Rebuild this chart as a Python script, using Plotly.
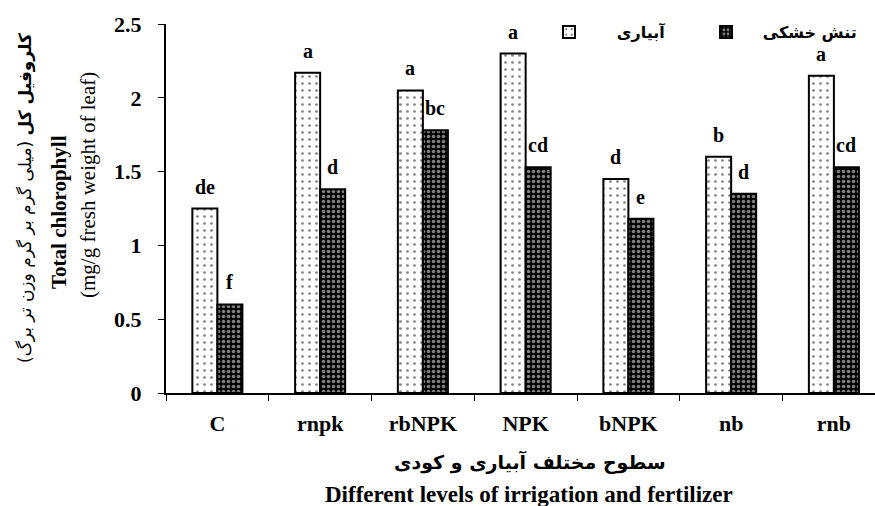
import plotly.graph_objects as go

categories = ["C", "rnpk", "rbNPK", "NPK", "bNPK", "nb", "rnb"]
irrigation = [1.25, 2.17, 2.05, 2.30, 1.45, 1.60, 2.15]
drought = [0.60, 1.38, 1.78, 1.53, 1.18, 1.35, 1.53]
irr_letters = ["de", "a", "a", "a", "d", "b", "a"]
dro_letters = ["f", "d", "bc", "cd", "e", "d", "cd"]
y_ticks = [0, 0.5, 1, 1.5, 2, 2.5]
y_ticklabels = ["0", "0.5", "1", "1.5", "2", "2.5"]

SERIF = "Liberation Serif, Times New Roman, serif"
FA = "DejaVu Sans, Noto Sans, sans-serif"
NB = "\u00a0"
RLM = "\u200f"

fig = go.Figure()
fig.add_trace(go.Bar(
    x=categories, y=irrigation, name=NB * 5 + "آبیاری",
    marker=dict(color="white", line=dict(color="black", width=2),
                pattern=dict(shape=".", fgcolor="black", bgcolor="white",
                             size=7, solidity=0.12)),
))
fig.add_trace(go.Bar(
    x=categories, y=drought, name=NB * 3 + "تنش خشکی",
    marker=dict(color="black", line=dict(color="black", width=2),
                pattern=dict(shape=".", fgcolor="white", bgcolor="black",
                             size=5, solidity=0.4)),
))

W, H = 875, 506
L, R, T, B = 166, 0, 24, 113
pw = W - L - R
ph = H - T - B

annotations = []
for c, v, t in zip(categories, irrigation, irr_letters):
    annotations.append(dict(x=c, y=v, xref="x", yref="y", text=t, showarrow=False,
                            xshift=-12.5, yshift=9, yanchor="bottom",
                            font=dict(family=SERIF, size=20, color="black", weight=700)))
for c, v, t in zip(categories, drought, dro_letters):
    annotations.append(dict(x=c, y=v, xref="x", yref="y", text=t, showarrow=False,
                            xshift=12.5, yshift=9, yanchor="bottom",
                            font=dict(family=SERIF, size=20, color="black", weight=700)))

def px2x(p):
    return (p - L) / pw

def py2y(p):
    return (T + ph - p) / ph

# y-axis title (three lines)
annotations.append(dict(x=px2x(25), y=py2y(198), xref="paper", yref="paper",
                        text=RLM + "<b>کلروفیل کل</b> (میلی گرم بر گرم وزن تر برگ)" + RLM,
                        textangle=-90, showarrow=False, xanchor="center", yanchor="middle",
                        font=dict(family=FA, size=17, color="black")))
annotations.append(dict(x=px2x(59), y=py2y(212), xref="paper", yref="paper",
                        text="<b>Total chlorophyll</b>",
                        textangle=-90, showarrow=False, xanchor="center", yanchor="middle",
                        font=dict(family=SERIF, size=21, color="black")))
annotations.append(dict(x=px2x(88), y=py2y(185), xref="paper", yref="paper",
                        text="(mg/g fresh weight of leaf)",
                        textangle=-90, showarrow=False, xanchor="center", yanchor="middle",
                        font=dict(family=SERIF, size=21, color="black")))
# x-axis titles
annotations.append(dict(x=px2x(530), y=py2y(462), xref="paper", yref="paper",
                        text="<b>سطوح مختلف آبیاری و کودی</b>",
                        showarrow=False, xanchor="center", yanchor="middle",
                        font=dict(family=FA, size=19, color="black")))
annotations.append(dict(x=px2x(529), y=py2y(494), xref="paper", yref="paper",
                        text="<b>Different levels of irrigation and fertilizer</b>",
                        showarrow=False, xanchor="center", yanchor="middle",
                        font=dict(family=SERIF, size=23, color="black")))

fig.update_layout(
    width=W, height=H,
    margin=dict(l=L, r=R, t=T, b=B, autoexpand=False),
    paper_bgcolor="white", plot_bgcolor="white",
    barmode="group", bargap=0.513, bargroupgap=0,
    showlegend=True,
    legend=dict(orientation="h", x=px2x(549), y=py2y(15), xanchor="left", yanchor="top",
                bgcolor="rgba(0,0,0,0)", entrywidth=112, entrywidthmode="pixels",
                font=dict(family=FA, size=16, color="black", weight=700),
                traceorder="normal"),
    annotations=annotations,
    xaxis=dict(type="category", range=[-0.5, 6.4], showline=True, linecolor="black",
               linewidth=2, ticks="outside", tickson="boundaries", ticklen=6,
               tickcolor="black", tickwidth=1, showgrid=False, zeroline=False,
               ticklabelstandoff=10,
               tickfont=dict(family=SERIF, size=22, color="black", weight=700)),
    yaxis=dict(range=[0, 2.5], tickvals=y_ticks, ticktext=y_ticklabels,
               showline=True, linecolor="black", linewidth=2, ticks="outside",
               ticklen=6, tickcolor="black", tickwidth=1, showgrid=False,
               zeroline=False, ticklabelstandoff=12,
               tickfont=dict(family=SERIF, size=22, color="black", weight=700)),
)

fig.write_html("out.html")
